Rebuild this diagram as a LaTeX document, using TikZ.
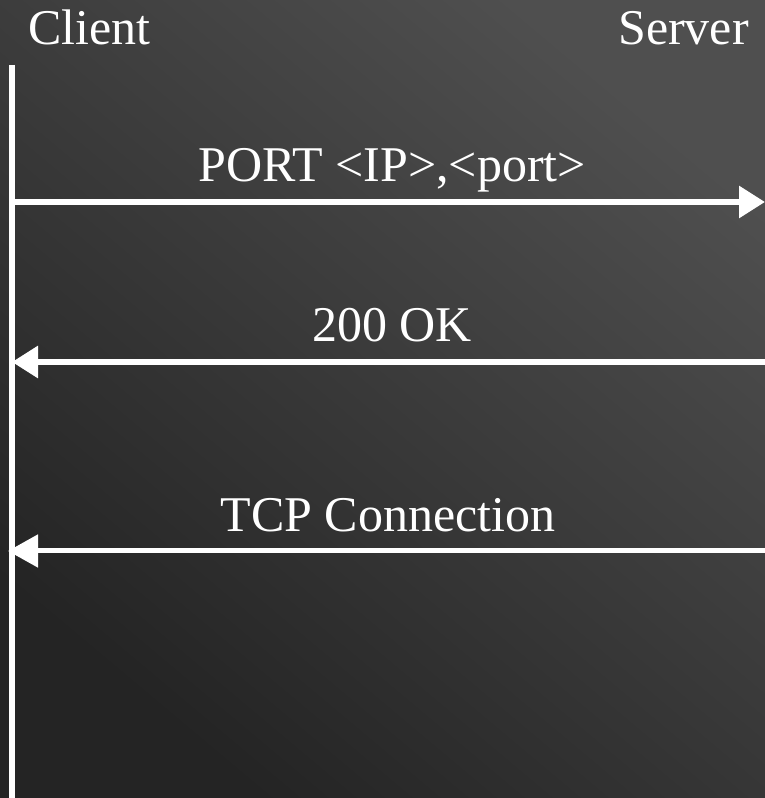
\documentclass[tikz,border=0pt]{standalone}
\usepackage{fontspec}
\setmainfont{Liberation Serif}
\usetikzlibrary{arrows.meta}
\begin{document}
\begin{tikzpicture}[x=1pt,y=1pt,
  lbl/.style={text=white,font=\fontsize{50}{58}\selectfont,anchor=base,inner sep=0pt},
  lifeline/.style={draw=white,line width=6pt},
  msg/.style={draw=white,line width=6pt,-{Triangle[length=26pt,width=31pt]}},
  msgthin/.style={draw=white,line width=5pt,-{Triangle[length=30pt,width=32pt]}}]
\useasboundingbox (0,0) rectangle (765,798);
\shade[top color=black!69!white, bottom color=black!86!white, shading angle=-40] (0,0) rectangle (765,798);
% actors
\node[lbl,anchor=base west] (client) at (28,753) {Client};
\node[lbl,anchor=base east] (server) at (749,753) {Server};
% lifeline
\coordinate (cltop) at (12,733);
\coordinate (clbot) at (12,0);
\draw[lifeline] (cltop) -- (clbot);
% message points
\coordinate (c1) at (9,596);
\coordinate (s1) at (765,596);
\coordinate (c2) at (12,436);
\coordinate (s2) at (768,436);
\coordinate (c3) at (8,247);
\coordinate (s3) at (768,247);
% labels
\node[lbl] (m1) at (392,616) {PORT <IP>,<port>};
\node[lbl] (m2) at (392,456) {200 OK};
\node[lbl] (m3) at (388,266) {TCP Connection};
% messages
\draw[msg] (c1) -- (s1);
\draw[msg] (s2) -- (c2);
\draw[msgthin] (s3) -- (c3);
\end{tikzpicture}
\end{document}
